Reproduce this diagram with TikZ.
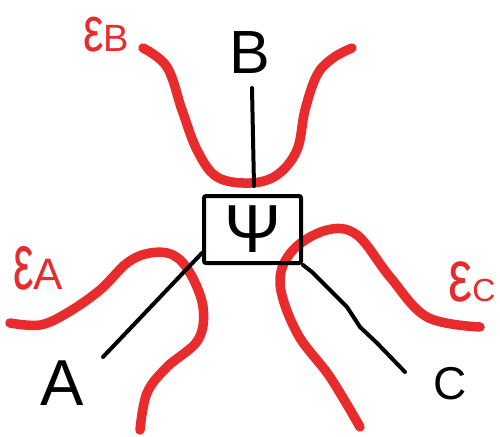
\documentclass[tikz,border=0pt]{standalone}
\usepackage{fontspec}
\setmainfont{Liberation Sans}
\definecolor{crayon}{RGB}{232,44,46}
\begin{document}
\begin{tikzpicture}[x=1pt,y=-1pt,
  ink/.style={line width=4pt,line cap=round,line join=round,black},
  region/.style={line width=9.5pt,line cap=round,line join=round,crayon,smooth,tension=0.6},
  lbl/.style={inner sep=0pt,black},
  elbl/.style={inner sep=0pt,crayon,anchor=base west},
  boxnode/.style={draw,line width=4pt,rounded corners=2pt,minimum width=97pt,minimum height=67pt,inner sep=0pt}]
\useasboundingbox[fill=white] (0,0) rectangle (500,436);

% environment regions (red)
\draw[region] plot coordinates {(143,48) (167,67) (182,110) (197,150) (217,177) (250,183) (277,175) (297,150) (305,110) (317,75) (333,58) (352,48)};
\draw[region] plot coordinates {(10,323) (40,325) (67,313) (100,290) (127,263) (150,253) (173,255) (190,273) (203,307) (198,340) (167,367) (147,393) (140,430)};
\draw[region] plot coordinates {(360,427) (330,377) (297,333) (280,283) (293,250) (327,230) (357,235) (390,277) (427,317) (480,327)};

% central state
\node[boxnode] (psi) at (252.5,229.5) {\fontsize{68}{68}\selectfont Ψ};

% subsystem labels
\node[lbl] (B) at (250,53) {\fontsize{61}{61}\selectfont B};
\node[lbl] (A) at (62,383) {\fontsize{65}{65}\selectfont A};
\node[lbl] (C) at (450,384) {\fontsize{46}{46}\selectfont C};

% environment labels
\node[elbl] (eB) at (83,52) {\fontsize{40}{40}\selectfont\scalebox{1.15}[1.6]{ε}\fontsize{38}{38}\selectfont B};
\node[elbl] (eA) at (13,289) {\fontsize{40}{40}\selectfont\scalebox{1.15}[2.0]{ε}\fontsize{44}{44}\selectfont A};
\node[elbl] (eC) at (448,301) {\fontsize{40}{40}\selectfont\scalebox{1.35}[1.85]{ε}\fontsize{32}{32}\selectfont C};

% connectors
\coordinate (bt) at (252,88);
\coordinate (bb) at (254,186);
\draw[ink] (bt) -- (bb);
\coordinate (at) at (202,253);
\coordinate (ab) at (103,357);
\draw[ink] (at) -- (ab);
\coordinate (ct) at (303,265);
\coordinate (cb) at (405,372);
\draw[ink] (ct) -- (312,272) -- (347,307) -- (360,327) -- (377,343) -- (cb);
\end{tikzpicture}
\end{document}
